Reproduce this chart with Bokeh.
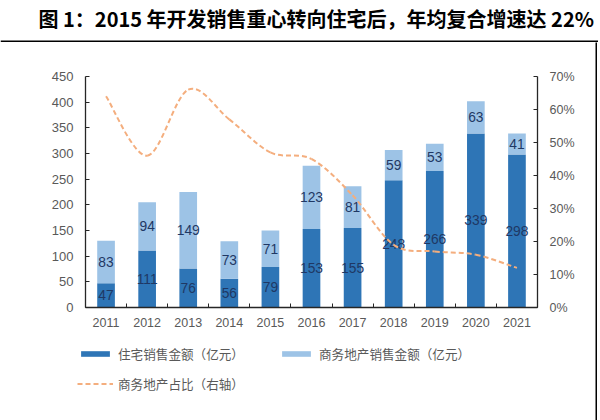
from bokeh.plotting import figure
from bokeh.models import (ColumnDataSource, Range1d, LinearAxis, FixedTicker,
                          NumeralTickFormatter, Legend, LegendItem, Label, Span)
from bokeh.layouts import column, row
from bokeh.core.properties import value
from bokeh.embed import file_html
from bokeh.resources import INLINE
import numpy as np

# ---- data ----
years = [2011, 2012, 2013, 2014, 2015, 2016, 2017, 2018, 2019, 2020, 2021]
residential = [47, 111, 76, 56, 79, 153, 155, 248, 266, 339, 298]
commercial = [83, 94, 149, 73, 71, 123, 81, 59, 53, 63, 41]
share = [0.64, 0.46, 0.66, 0.57, 0.47, 0.45, 0.34, 0.19, 0.17, 0.16, 0.12]
left_ticks = [0, 50, 100, 150, 200, 250, 300, 350, 400, 450]
right_ticks = [0.0, 0.1, 0.2, 0.3, 0.4, 0.5, 0.6, 0.7]
title_text = "图 1：2015 年开发销售重心转向住宅后，年均复合增速达 22%"
label_res = "住宅销售金额（亿元）"
label_com = "商务地产销售金额（亿元）"
label_share = "商务地产占比（右轴）"

DARK = "#2E75B6"
LIGHT = "#9DC3E6"
ORANGE = "#F4AE7E"
GREY = "#595959"
NAVY = "#1F3864"
CJK = "Noto Sans CJK SC"
LAT = "Liberation Sans"


def blank(w, h, fill="#ffffff", border="#ffffff", xr=(0, 1), yr=(0, 1), **kw):
    f = figure(width=w, height=h, x_range=Range1d(*xr), y_range=Range1d(*yr),
               x_axis_type=None, y_axis_type=None, output_backend="svg",
               toolbar_location=None, min_border=0, outline_line_color=None,
               border_fill_color=border, background_fill_color=fill, **kw)
    try:
        f.frame_align = False
    except Exception:
        pass
    return f


# ---- header: title text and black rule beneath it (header pixels used as its coordinates) ----
header = blank(598, 42, xr=(0, 598), yr=(0, 42), title=None)
header.add_layout(Label(x=38, y=24, text=title_text, text_font=CJK, text_font_style="bold",
                        text_font_size="20px", text_color="#000000", text_baseline="middle",
                        text_align="left"))
header.add_layout(Span(location=1, dimension="width", line_color="#000000", line_width=2))
header.x_range = Range1d(-28, 570)  # rule starts 28px in from the left
header.renderers  # no glyphs
# shift the title so that it still begins at canvas x = 38
header.center[-2].x = 10

vline = blank(2, 378, "#000000", "#000000")

# ---- main chart ----
res = np.array(residential, dtype=float)
com = np.array(commercial, dtype=float)
src = ColumnDataSource(dict(
    year=years, res=residential, com=commercial, share=share,
    res_mid=res / 2, com_mid=res + com / 2,
    res_txt=[str(v) for v in residential], com_txt=[str(v) for v in commercial]))

p = figure(width=595, height=291, x_range=Range1d(2010.5, 2021.5), y_range=Range1d(0, 450),
           output_backend="svg", toolbar_location=None,
           min_border_left=85, min_border_right=58, min_border_top=34, min_border_bottom=26,
           outline_line_color=None)
try:
    p.frame_align = False
except Exception:
    pass
p.xgrid.visible = False
p.ygrid.visible = False

bars = p.vbar_stack(["res", "com"], x="year", width=0.43, color=[DARK, LIGHT],
                    line_color=None, source=src)

p.text(x="year", y="res_mid", text="res_txt", source=src, text_align="center",
       text_baseline="middle", text_font=value(LAT), text_font_size="13.8px", text_color=NAVY)
p.text(x="year", y="com_mid", text="com_txt", source=src, text_align="center",
       text_baseline="middle", text_font=value(LAT), text_font_size="13.8px", text_color=NAVY)

# right axis range and smoothed share line (bezier segments through data points)
p.extra_y_ranges = {"pct": Range1d(0, 0.7)}
xs = np.array(years, dtype=float)
ys = np.array(share, dtype=float)
n = len(xs)
xp = np.concatenate([[xs[0]], xs, [xs[-1]]])
yp = np.concatenate([[ys[0]], ys, [ys[-1]]])
t = 1.0 / 6.0
bz = dict(x0=[], y0=[], x1=[], y1=[], cx0=[], cy0=[], cx1=[], cy1=[])
for i in range(n - 1):
    j = i + 1
    bz["x0"].append(xs[i]); bz["y0"].append(ys[i])
    bz["x1"].append(xs[i + 1]); bz["y1"].append(ys[i + 1])
    bz["cx0"].append(xs[i] + (xp[j + 1] - xp[j - 1]) * t)
    bz["cy0"].append(ys[i] + (yp[j + 1] - yp[j - 1]) * t)
    bz["cx1"].append(xs[i + 1] - (xp[j + 2] - xp[j]) * t)
    bz["cy1"].append(ys[i + 1] - (yp[j + 2] - yp[j]) * t)
p.bezier(x0="x0", y0="y0", x1="x1", y1="y1", cx0="cx0", cy0="cy0", cx1="cx1", cy1="cy1",
         source=ColumnDataSource(bz), line_color=ORANGE, line_width=2, line_dash="5 3",
         y_range_name="pct")

# axes
AX = "#262626"
xa = p.xaxis[0]
xa.ticker = FixedTicker(ticks=years, minor_ticks=[y - 0.5 for y in years] + [years[-1] + 0.5])
xa.major_tick_in = 0
xa.major_tick_out = 0
xa.minor_tick_in = 4
xa.minor_tick_out = 0
xa.minor_tick_line_color = AX
xa.axis_line_color = AX
xa.axis_line_width = 1.3
xa.major_label_standoff = 10
xa.major_label_text_font = LAT
xa.major_label_text_font_size = "12.5px"
xa.major_label_text_color = GREY

ya = p.yaxis[0]
ya.ticker = FixedTicker(ticks=left_ticks)
ya.major_tick_in = 4
ya.major_tick_out = 0
ya.minor_tick_line_color = None
ya.axis_line_color = AX
ya.axis_line_width = 1.3
ya.major_tick_line_color = AX
ya.major_label_standoff = 12
ya.major_label_text_font = LAT
ya.major_label_text_font_size = "13px"
ya.major_label_text_color = GREY

ra = LinearAxis(y_range_name="pct", ticker=FixedTicker(ticks=right_ticks),
                formatter=NumeralTickFormatter(format="0%"))
ra.major_tick_in = 4
ra.major_tick_out = 0
ra.minor_tick_line_color = None
ra.axis_line_color = AX
ra.axis_line_width = 1.3
ra.major_tick_line_color = AX
ra.major_label_standoff = 12
ra.major_label_text_font = LAT
ra.major_label_text_font_size = "12.5px"
ra.major_label_text_color = GREY
p.add_layout(ra, "right")

# ---- legend panel (renderers share the chart's data; their data lie outside this panel's range) ----
lg = blank(595, 87)
lg_res = lg.vbar(x="year", top="res", width=0.43, color=DARK, line_color=None, source=src)
lg_com = lg.vbar(x="year", top="com", width=0.43, color=LIGHT, line_color=None, source=src)
lg_share = lg.line(x="year", y="share", line_color=ORANGE, line_width=2, line_dash="5 3",
                   source=src)
legend = Legend(items=[LegendItem(label=label_res, renderers=[lg_res]),
                       LegendItem(label=label_com, renderers=[lg_com]),
                       LegendItem(label=label_share, renderers=[lg_share])],
                orientation="horizontal", ncols=2, location=(77, 24),
                glyph_width=36, glyph_height=7, label_standoff=5, label_width=155,
                label_height=25, spacing=5, padding=0, margin=0,
                border_line_color=None, background_fill_alpha=0,
                label_text_font=CJK, label_text_font_size="12.6px", label_text_color=GREY)
lg.add_layout(legend)

layout = column(header, row(column(p, row(lg)), vline))
open("out.html", "w").write(file_html(layout, INLINE))
